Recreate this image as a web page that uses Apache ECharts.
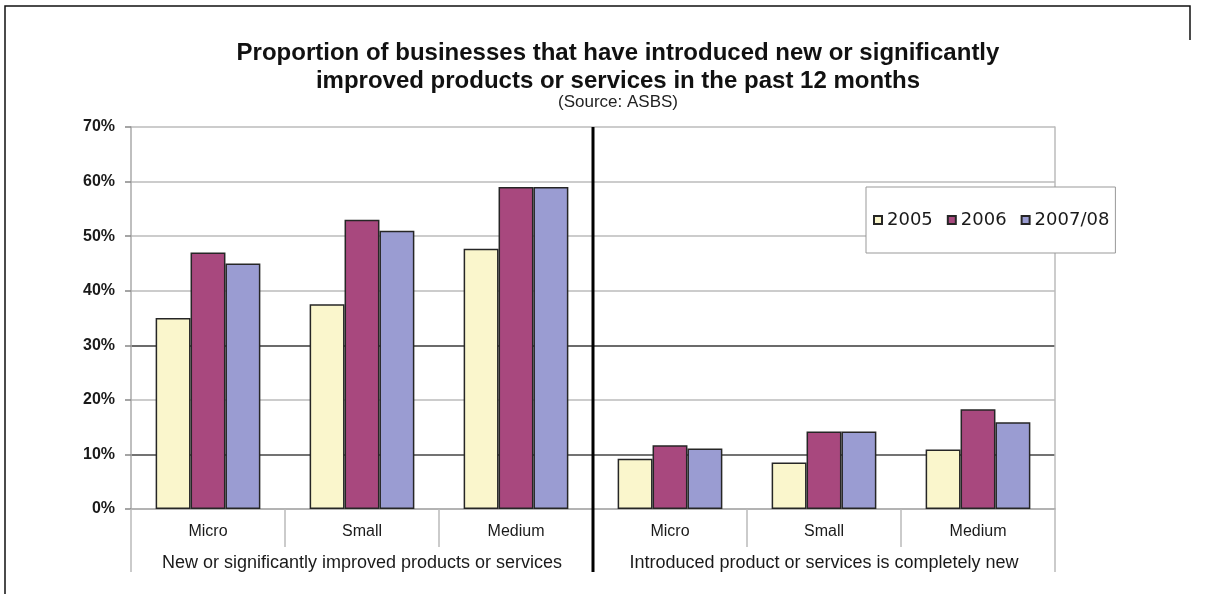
<!DOCTYPE html>
<html>
<head>
<meta charset="utf-8">
<script src="https://cdn.jsdelivr.net/npm/echarts@6/dist/echarts.min.js"></script>
<style>
html,body{margin:0;padding:0;background:#fff;}
#c{width:1208px;height:594px;}
</style>
</head>
<body>
<div id="c"></div>
<script>
// ---- data ----
const sizes = ['Micro', 'Small', 'Medium'];
const groups = ['New or significantly improved products or services', 'Introduced product or services is completely new'];
const seriesNames = ['2005', '2006', '2007/08'];
const values2005 = [35, 37.5, 47.7, 9.2, 8.5, 10.9];
const values2006 = [47, 53, 59, 11.7, 14.2, 18.3];
const values2007 = [45, 51, 59, 11.1, 14.2, 15.9];
const yMin = 0, yMax = 70, yStep = 10;
const titleText = 'Proportion of businesses that have introduced new or significantly\nimproved products or services in the past 12 months';
const subtitleText = '(Source: ASBS)';

const categories = groups.flatMap(() => sizes);
const colors = ['#FAF6CC', '#A8487E', '#9A9CD2'];
const font = 'Liberation Sans, Arial, sans-serif';

const chart = echarts.init(document.getElementById('c'));
const option = {
  animation: false,
  backgroundColor: '#fff',
  title: {
    text: titleText,
    subtext: subtitleText,
    left: 618,
    textAlign: 'center',
    top: 39,
    padding: 0,
    itemGap: -1,
    textStyle: {fontFamily: font, fontWeight: 'bold', fontSize: 24, lineHeight: 28, color: '#111'},
    subtextStyle: {fontFamily: font, fontSize: 17, lineHeight: 17, color: '#222'}
  },
  legend: {
    data: seriesNames,
    left: 866,
    top: 187,
    padding: [24, 6, 24, 7],
    backgroundColor: '#fff',
    borderColor: '#999',
    borderWidth: 1,
    itemWidth: 8,
    itemHeight: 8,
    itemGap: 14,
    icon: 'rect',
    textStyle: {fontFamily: 'DejaVu Sans', fontSize: 18, color: '#1a1a1a'}
  },
  grid: {left: 131, right: 153, top: 127, bottom: 85, containLabel: false},
  xAxis: [
    {
      type: 'category',
      data: categories,
      position: 'bottom',
      axisLine: {show: true, lineStyle: {color: '#aaa', width: 1.5}},
      axisTick: {show: true, length: 38, interval: 0, lineStyle: {color: '#bbb', width: 1.5}},
      axisLabel: {interval: 0, margin: 15, fontFamily: font, fontSize: 16, color: '#1a1a1a'},
      splitLine: {show: false}
    },
    {
      type: 'category',
      data: groups,
      position: 'bottom',
      axisLine: {show: false},
      axisTick: {show: true, length: 63, interval: 0, lineStyle: {color: '#bbb', width: 1.5}},
      axisLabel: {interval: 0, margin: 45, fontFamily: font, fontSize: 18, color: '#1a1a1a'},
      splitLine: {show: false}
    }
  ],
  yAxis: [
    {
      type: 'value',
      min: yMin, max: yMax, interval: yStep,
      axisLine: {show: true, lineStyle: {color: '#aaa', width: 1.5}},
      axisTick: {show: true, length: 6, lineStyle: {color: '#888', width: 1.5}},
      axisLabel: {formatter: '{value}%', margin: 16, fontFamily: font, fontWeight: 'bold', fontSize: 16, color: '#1a1a1a'},
      splitLine: {show: true, lineStyle: {width: 1.5, color: ['#bbb', '#444', '#bbb', '#3a3a3a', '#bbb', '#bbb', '#bbb', '#bbb']}}
    },
    {
      type: 'value',
      position: 'right',
      min: yMin, max: yMax, interval: yStep,
      axisLine: {show: true, lineStyle: {color: '#bbb', width: 1.5}},
      axisTick: {show: false},
      axisLabel: {show: false},
      splitLine: {show: false}
    }
  ],
  series: [values2005, values2006, values2007].map((vals, i) => ({
    name: seriesNames[i],
    type: 'bar',
    xAxisIndex: 0,
    yAxisIndex: 0,
    data: vals,
    barGap: '0%',
    barCategoryGap: '32%',
    itemStyle: {color: colors[i], borderColor: '#262626', borderWidth: 1.5}
  }))
};
chart.setOption(option);

// divider between the two groups, placed through the axis scales
const nFirst = sizes.length;
const xDiv = (chart.convertToPixel({xAxisIndex: 0}, nFirst - 1) + chart.convertToPixel({xAxisIndex: 0}, nFirst)) / 2;
const yTop = chart.convertToPixel({yAxisIndex: 0}, yMax);
const yBase = chart.convertToPixel({yAxisIndex: 0}, yMin);
chart.setOption({
  graphic: [
    {type: 'line', z: 50, shape: {x1: xDiv, y1: yTop, x2: xDiv, y2: yBase + 63}, style: {stroke: '#000', lineWidth: 3}},
    {type: 'polyline', z: 50, shape: {points: [[5, 594], [5, 6], [1190, 6], [1190, 40]]}, style: {stroke: '#111', lineWidth: 1.5, fill: null}}
  ]
});
</script>
</body>
</html>
